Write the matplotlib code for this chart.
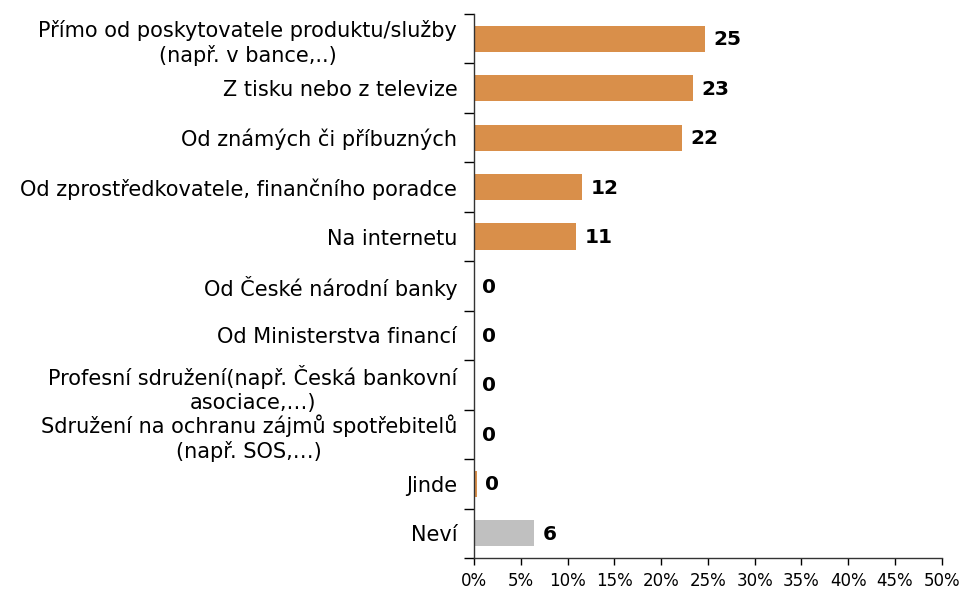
"""Horizontal bar chart: where respondents get information (percent)."""

import matplotlib.pyplot as plt
import numpy as np

CATEGORIES = [
    "Přímo od poskytovatele produktu/služby\n(např. v bance,..)",
    "Z tisku nebo z televize",
    "Od známých či příbuzných",
    "Od zprostředkovatele, finančního poradce",
    "Na internetu",
    "Od České národní banky",
    "Od Ministerstva financí",
    "Profesní sdružení(např. Česká bankovní\nasociace,…)",
    "Sdružení na ochranu zájmů spotřebitelů\n(např. SOS,…)",
    "Jinde",
    "Neví",
]
VALUES = [24.7, 23.4, 22.2, 11.6, 10.9, 0.0, 0.0, 0.0, 0.0, 0.3, 6.4]
LABELS = ["25", "23", "22", "12", "11", "0", "0", "0", "0", "0", "6"]
XTICKS = [0, 5, 10, 15, 20, 25, 30, 35, 40, 45, 50]

ORANGE = "#d98f4a"
GREY = "#c0c0c0"


def main():
    plt.rcParams.update({"font.family": "DejaVu Sans"})
    fig = plt.figure(figsize=(9.62, 5.89), dpi=100)
    ax = fig.add_axes([0.4927, 0.0526, 0.4862, 0.9236])

    n = len(CATEGORIES)
    y = np.arange(n)
    colors = [ORANGE] * (n - 1) + [GREY]
    ax.barh(y, VALUES, height=0.53, color=colors, zorder=2)

    for yi, v, lab in zip(y, VALUES, LABELS):
        ax.text(v + 0.9, yi + 0.02, lab, va="center", ha="left",
                fontsize=14.5, fontweight="bold", color="black")

    ax.set_xlim(0, 50)
    ax.set_ylim(n - 0.5, -0.5)
    ax.set_xticks(XTICKS, [f"{t}%" for t in XTICKS])
    ax.set_yticks(y)
    ax.set_yticklabels(CATEGORIES, fontsize=15, multialignment="center",
                       linespacing=1.25)
    ax.tick_params(axis="y", which="major", length=0, pad=12)
    ax.set_yticks(np.arange(-0.5, n, 1), minor=True)
    ax.tick_params(axis="y", which="minor", length=7, width=1, direction="out")
    ax.tick_params(axis="x", length=5, width=1, direction="out", labelsize=12, pad=5)

    for side in ("top", "right"):
        ax.spines[side].set_visible(False)
    for side in ("left", "bottom"):
        ax.spines[side].set_color("#333333")
        ax.spines[side].set_linewidth(1)

    fig.savefig("out.png", dpi=100, facecolor="white")
    plt.close(fig)


if __name__ == "__main__":
    main()
